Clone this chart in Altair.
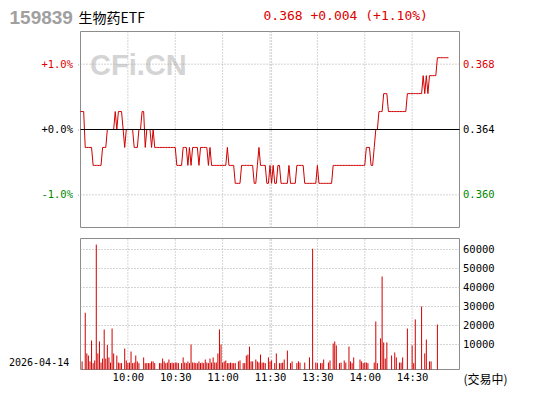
import altair as alt
import pandas as pd

# ---------------- data ----------------
PREV_CLOSE = 0.364

prices = [
    0.365, 0.365, 0.365, 0.363, 0.363, 0.363, 0.363, 0.363, 0.362, 0.362,
    0.362, 0.362, 0.362, 0.362, 0.363, 0.363, 0.363, 0.364, 0.364, 0.364,
    0.364, 0.364, 0.365, 0.364, 0.365, 0.365, 0.365, 0.364, 0.363, 0.364,
    0.364, 0.364, 0.364, 0.364, 0.363, 0.363, 0.363, 0.364, 0.364, 0.365,
    0.365, 0.363, 0.364, 0.364, 0.364, 0.363, 0.364, 0.363, 0.363, 0.363,
    0.363, 0.363, 0.363, 0.363, 0.363, 0.363, 0.363, 0.363, 0.363, 0.363,
    0.363, 0.362, 0.362, 0.362, 0.362, 0.363, 0.363, 0.363, 0.362, 0.363,
    0.362, 0.363, 0.363, 0.363, 0.363, 0.362, 0.363, 0.363, 0.363, 0.363,
    0.363, 0.362, 0.363, 0.362, 0.362, 0.362, 0.362, 0.362, 0.362, 0.362,
    0.362, 0.362, 0.362, 0.363, 0.362, 0.362, 0.362, 0.362, 0.361, 0.361,
    0.361, 0.361, 0.362, 0.362, 0.362, 0.362, 0.362, 0.362, 0.362, 0.362,
    0.361, 0.361, 0.362, 0.363, 0.362, 0.362, 0.362, 0.362, 0.361, 0.361,
    0.362, 0.361, 0.362, 0.361, 0.361, 0.362, 0.362, 0.361, 0.361, 0.361,
    0.361, 0.361, 0.362, 0.361, 0.361, 0.361, 0.361, 0.362, 0.362, 0.362,
    0.362, 0.362, 0.361, 0.361, 0.361, 0.361, 0.361, 0.361, 0.361, 0.361,
    0.362, 0.361, 0.361, 0.361, 0.361, 0.361, 0.361, 0.361, 0.361, 0.361,
    0.362, 0.362, 0.362, 0.362, 0.362, 0.362, 0.362, 0.362, 0.362, 0.362,
    0.362, 0.362, 0.362, 0.362, 0.362, 0.362, 0.362, 0.362, 0.362, 0.362,
    0.362, 0.363, 0.363, 0.363, 0.362, 0.362, 0.363, 0.364, 0.364, 0.365,
    0.365, 0.365, 0.366, 0.366, 0.366, 0.365, 0.365, 0.365, 0.365, 0.365,
    0.365, 0.365, 0.365, 0.365, 0.365, 0.365, 0.365, 0.366, 0.366, 0.366,
    0.366, 0.366, 0.366, 0.366, 0.366, 0.366, 0.366, 0.367, 0.366, 0.367,
    0.366, 0.367, 0.367, 0.367, 0.367, 0.367, 0.368, 0.368, 0.368, 0.368,
    0.368, 0.368, 0.368, 0.368,
]

volumes = [
    0, 1100, 0, 26700, 5300, 4200, 1100, 12100, 200, 1600,
    62600, 5300, 11600, 500, 2600, 17900, 2600, 9700, 3200, 500,
    18400, 5300, 0, 4200, 500, 200, 200, 0, 7900, 1600,
    200, 500, 6300, 200, 500, 4200, 1100, 200, 0, 0,
    3200, 200, 200, 200, 200, 1100, 1100, 200, 0, 0,
    200, 200, 2600, 1100, 200, 500, 2100, 200, 500, 200,
    500, 500, 200, 0, 200, 3200, 500, 200, 1100, 200,
    10000, 500, 500, 200, 200, 1100, 200, 500, 200, 2100,
    500, 200, 2600, 500, 3200, 500, 500, 5300, 17900, 10000,
    500, 1100, 1600, 200, 200, 500, 200, 200, 200, 0,
    1100, 1600, 0, 200, 200, 4200, 4700, 8900, 1100, 1100,
    0, 2100, 1100, 500, 4700, 500, 500, 200, 0, 3200,
    1100, 1600, 0, 200, 5300, 0, 200, 200, 500, 2100,
    0, 6800, 0, 200, 1100, 0, 0, 200, 1100, 500,
    0, 0, 500, 0, 0, 3200, 0, 60400, 0, 500,
    200, 0, 200, 200, 2100, 0, 0, 500, 1600, 0,
    10500, 11600, 9500, 0, 200, 500, 0, 1600, 500, 0,
    8900, 1100, 200, 3200, 0, 0, 0, 2100, 1100, 200,
    500, 500, 200, 0, 0, 0, 500, 22100, 200, 0,
    13200, 45800, 11100, 2600, 11100, 0, 0, 4200, 0, 5800,
    3200, 0, 500, 500, 3200, 0, 0, 18400, 0, 0,
    9500, 200, 23200, 0, 0, 0, 30000, 0, 5300, 12600,
    0, 1100, 1100, 0, 0, 0, 20500, 0, 0, 0,
    0, 0, 0, 0,
]

time_tick_minutes = [30, 60, 90, 120, 150, 180, 210]
time_tick_labels = ["10:00", "10:30", "11:00", "11:30", "13:30", "14:00", "14:30"]
grid_minutes = [30, 60, 90, 120, 121, 150, 180, 210]
pct_ticks = [-1.0, 0.0, 1.0]
price_ticks = [0.36036, 0.364, 0.36764]
vol_ticks = [10000, 20000, 30000, 40000, 50000, 60000]

title_code = "159839"
title_name = "生物药ETF"
title_quote = "0.368 +0.004 (+1.10%)"
watermark = "CFi.CN"
date_text = "2026-04-14"
status_text = "(交易中)"

# ---------------- layout / style ----------------
N_MIN = 240
PCT_MAX = 1.5
VOL_MIN = -3158
VOL_MAX = 65789
W = 379
PRICE_H = 196
VOL_TOP = 207
H = 338

RED = "#dd0000"
LINE_RED = "#d00000"
GREEN = "#008800"
GRID = "#a8a8a8"
FRAME = "#8c8c8c"
MONO = "DejaVu Sans Mono"

df = pd.DataFrame({"m": list(range(len(prices))), "price": prices, "vol": volumes})
df["base"] = VOL_MIN

time_expr = " : ".join(
    f"datum.value == {m} ? '{l}'" for m, l in zip(time_tick_minutes, time_tick_labels)
) + " : ''"

x_scale = alt.Scale(domain=[0, N_MIN], nice=False, zero=False)
x_axis = alt.Axis(values=time_tick_minutes, labelExpr=time_expr, ticks=False, domain=False,
                  grid=False, labelPadding=3, labelFont=MONO, labelFontSize=10.5,
                  labelColor="#000000", title=None)


def X(field):
    return alt.X(field, type="quantitative", scale=x_scale, axis=x_axis)


pct_scale = alt.Scale(domain=[-PCT_MAX, PCT_MAX], range=[PRICE_H, 0], nice=False, zero=False)
price_scale = alt.Scale(domain=[PREV_CLOSE * (1 - PCT_MAX / 100), PREV_CLOSE * (1 + PCT_MAX / 100)],
                        range=[PRICE_H, 0], nice=False, zero=False)
vol_scale = alt.Scale(domain=[VOL_MIN, VOL_MAX], range=[H, VOL_TOP], nice=False, zero=False)

pct_axis = alt.Axis(orient="left", values=pct_ticks, domain=False, grid=False,
                    ticks=True, tickSize=4, tickColor=GRID, tickDash=[1, 1],
                    labelPadding=4, labelFont=MONO, labelFontSize=10.5,
                    labelExpr="(datum.value < 0 ? '-' : '+') + format(abs(datum.value), '.1f') + '%'",
                    labelColor={"expr": f"datum.value > 0.5 ? '{RED}' : (datum.value < -0.5 ? '{GREEN}' : '#000000')"},
                    title=None)
price_axis = alt.Axis(orient="right", values=price_ticks, domain=False, grid=False, ticks=False,
                      labelPadding=3, labelFont=MONO, labelFontSize=10.5,
                      labelExpr="format(datum.value, '.3f')",
                      labelColor={"expr": f"datum.value > 0.3645 ? '{RED}' : (datum.value < 0.3635 ? '{GREEN}' : '#000000')"},
                      title=None)
vol_axis = alt.Axis(orient="right", values=vol_ticks, domain=False, grid=False, ticks=False,
                    labelPadding=3, labelFont=MONO, labelFontSize=10.5, format="d",
                    labelColor="#000000", title=None)

# ---------------- price panel (percent scale: frame, grid) ----------------
frame_df = pd.DataFrame({"x0": [0], "x1": [N_MIN], "y0": [-PCT_MAX], "y1": [PCT_MAX]})
p_frame = alt.Chart(frame_df).mark_rect(fillOpacity=0, stroke=FRAME, strokeWidth=1).encode(
    x=X("x0"), x2="x1", y=alt.Y("y0:Q", scale=pct_scale, axis=pct_axis), y2="y1")
hgrid_df = pd.DataFrame({"pct": [-1.0, 1.0], "x0": [0, 0], "x1": [N_MIN, N_MIN]})
p_hgrid = alt.Chart(hgrid_df).mark_rule(color=GRID, strokeDash=[1, 2], strokeWidth=1).encode(
    x=X("x0"), x2="x1", y=alt.Y("pct:Q", scale=pct_scale, axis=pct_axis))
vgrid_df = pd.DataFrame({"m": grid_minutes, "y0": -PCT_MAX, "y1": PCT_MAX})
p_vgrid = alt.Chart(vgrid_df).mark_rule(color=GRID, strokeDash=[1, 2], strokeWidth=1).encode(
    x=X("m"), y=alt.Y("y0:Q", scale=pct_scale, axis=pct_axis), y2="y1")
pct_layer = alt.layer(p_frame, p_hgrid, p_vgrid)

# ---------------- price line ----------------
line = alt.Chart(df).mark_line(color=LINE_RED, strokeWidth=1).encode(
    x=X("m"), y=alt.Y("price:Q", scale=price_scale, axis=price_axis))
base_df = pd.DataFrame({"x0": [0], "x1": [N_MIN], "p": [PREV_CLOSE]})
baseline = alt.Chart(base_df).mark_rule(color="#000000", strokeWidth=1).encode(
    x=X("x0"), x2="x1", y=alt.Y("p:Q", scale=price_scale, axis=price_axis))
price_layer = alt.layer(line, baseline)

# ---------------- volume panel ----------------
vframe_df = pd.DataFrame({"x0": [0], "x1": [N_MIN], "y0": [VOL_MIN], "y1": [VOL_MAX]})
v_frame = alt.Chart(vframe_df).mark_rect(fillOpacity=0, stroke=FRAME, strokeWidth=1).encode(
    x=X("x0"), x2="x1", y=alt.Y("y0:Q", scale=vol_scale, axis=vol_axis), y2="y1")
vh_df = pd.DataFrame({"v": vol_ticks, "x0": 0, "x1": N_MIN})
v_hgrid = alt.Chart(vh_df).mark_rule(color=GRID, strokeDash=[1, 2], strokeWidth=1).encode(
    x=X("x0"), x2="x1", y=alt.Y("v:Q", scale=vol_scale, axis=vol_axis))
vv_df = pd.DataFrame({"m": grid_minutes, "y0": VOL_MIN, "y1": VOL_MAX})
v_vgrid = alt.Chart(vv_df).mark_rule(color=GRID, strokeDash=[1, 2], strokeWidth=1).encode(
    x=X("m"), y=alt.Y("y0:Q", scale=vol_scale, axis=vol_axis), y2="y1")
bars = alt.Chart(df).transform_filter("datum.vol > 0").mark_rule(color=LINE_RED, strokeWidth=1).encode(
    x=X("m"), y=alt.Y("vol:Q", scale=vol_scale, axis=vol_axis), y2="base:Q")
vol_layer = alt.layer(v_frame, v_hgrid, v_vgrid, bars)


# ---------------- texts ----------------
def txt(s, x, y, **kw):
    return alt.Chart(pd.DataFrame({"t": [s]})).mark_text(**kw).encode(
        x=alt.value(x), y=alt.value(y), text="t:N")


t_code = txt(title_code, -71, -8, font="Liberation Sans", fontWeight="bold", fontSize=19,
             color="#a0a0a0", align="left", baseline="alphabetic")
t_name = txt(title_name, -2, -13, font="Noto Sans CJK SC", fontSize=14, color="#000000",
             align="left", baseline="middle")
t_quote = txt(title_quote, 183, -12, font=MONO, fontSize=13, color=RED,
              align="left", baseline="alphabetic")
t_wm = txt(watermark, 9.5, 43.5, font="Liberation Sans", fontWeight="bold", fontSize=29,
           color="#d4d4d4", align="left", baseline="alphabetic")
t_date = txt(date_text, -71.5, 331, font=MONO, fontSize=10, color="#000000",
             align="left", baseline="middle")
t_status = txt(status_text, 383, 348, font="Noto Sans CJK SC", fontSize=12, color="#000000",
               align="left", baseline="middle")

chart = alt.layer(
    t_wm, pct_layer, price_layer, vol_layer, t_code, t_name, t_quote, t_date, t_status
).resolve_scale(y="independent").properties(
    width=W, height=H,
    autosize=alt.AutoSizeParams(type="none"),
    padding={"left": 72.5, "top": 23.5, "right": 72.5, "bottom": 22.5},
    background="#ffffff",
).configure_view(stroke=None)

chart.save("out.html", embed_options={"renderer": "svg", "actions": False})
